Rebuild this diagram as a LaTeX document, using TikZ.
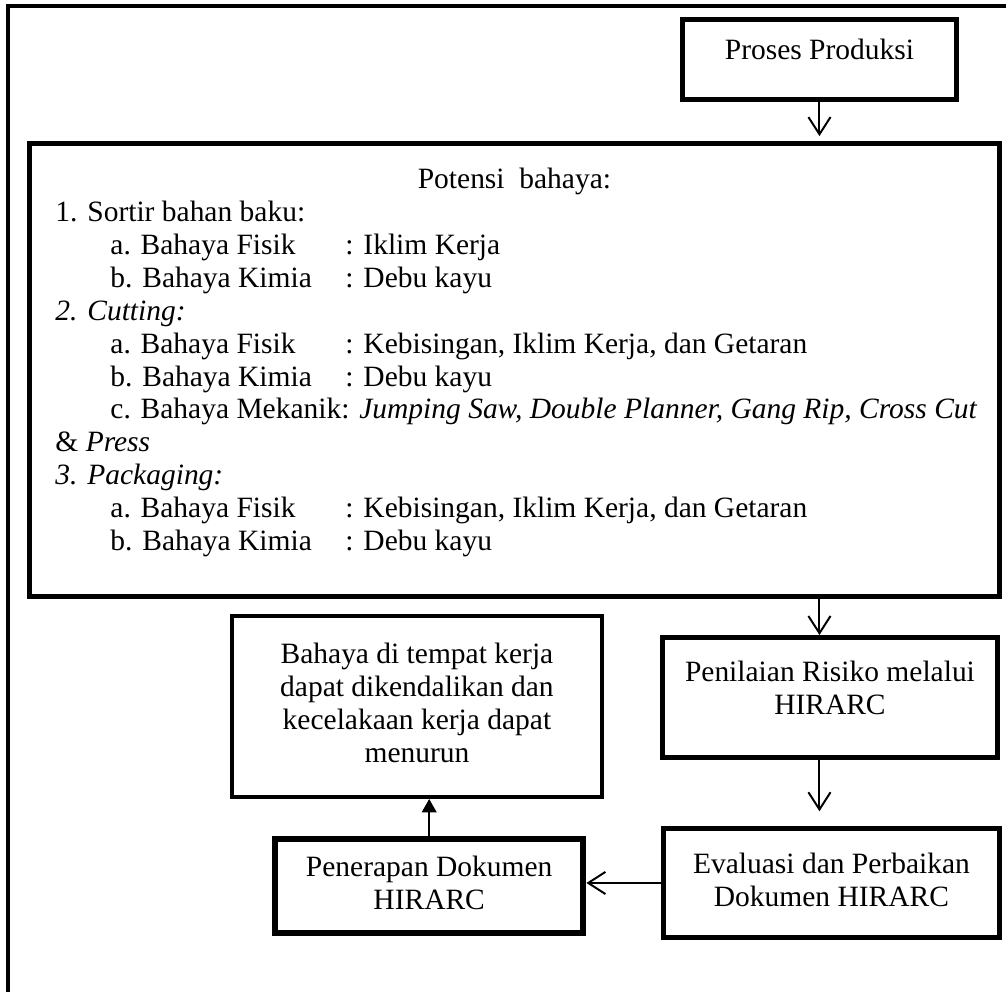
\documentclass[tikz,border=0pt]{standalone}
\usepackage{fontspec}
\setmainfont{Liberation Serif}
\usetikzlibrary{arrows.meta}
\newdimen\px
\px=0.407pt
\newcommand{\bxtext}[4]{\parbox[c][#2\px][#3]{#1\px}{\centering #4}}

\begin{document}
\begin{tikzpicture}[x=0.407pt,y=-0.407pt,
    box/.style={draw,line width=2pt,inner sep=0pt,anchor=north west,font=\fontsize{12pt}{13.4pt}\selectfont},
    arr/.style={-{Straight Barb[length=7pt,width=9pt]},line width=0.8pt},
    tri/.style={-{Triangle[length=5.5pt,width=6pt]},line width=0.8pt}]
    \useasboundingbox (0,0) rectangle (1006,991);
    % frame
    \draw[line width=1.6pt] (8,1000) -- (8,6) -- (1020,6);
    \node[box] (proses) at (680,17) {\bxtext{274}{80}{t}{\vspace*{17\px}\strut Proses Produksi}};
    \node[box] (potensi) at (27,141) {\bxtext{970}{453}{t}{\vspace*{22\px}\strut Potensi\ \ bahaya:\par
        \raggedright
        \hspace*{26\px}1. Sortir bahan baku:\\
        \hspace*{81\px}\makebox[235\px][l]{a. Bahaya Fisik}: Iklim Kerja\\
        \hspace*{81\px}\makebox[235\px][l]{b. Bahaya Kimia}: Debu kayu\\
        \hspace*{26\px}\textit{2. Cutting:}\\
        \hspace*{81\px}\makebox[235\px][l]{a. Bahaya Fisik}: Kebisingan, Iklim Kerja, dan Getaran\\
        \hspace*{81\px}\makebox[235\px][l]{b. Bahaya Kimia}: Debu kayu\\
        \hspace*{81\px}c. Bahaya Mekanik: \textit{Jumping Saw, Double Planner, Gang Rip, Cross Cut}\\
        \hspace*{26\px}\& \textit{Press}\\
        \hspace*{26\px}\textit{3. Packaging:}\\
        \hspace*{81\px}\makebox[235\px][l]{a. Bahaya Fisik}: Kebisingan, Iklim Kerja, dan Getaran\\
        \hspace*{81\px}\makebox[235\px][l]{b. Bahaya Kimia}: Debu kayu}};
    \node[box] (penilaian) at (660,635) {\bxtext{335}{120}{t}{\vspace*{21\px}\strut Penilaian Risiko melalui\\HIRARC}};
    \node[box,line width=1.6pt] (bahaya) at (230,614) {\bxtext{370}{181}{c}{\strut Bahaya di tempat kerja\\dapat dikendalikan dan\\kecelakaan kerja dapat\\menurun\strut}};
    \node[box] (evaluasi) at (661,826) {\bxtext{336}{109}{c}{\strut Evaluasi dan Perbaikan\\Dokumen HIRARC\strut}};
    \node[box,line width=2.6pt] (penerapan) at (272,836) {\bxtext{308}{94}{c}{\strut Penerapan Dokumen\\HIRARC\strut}};
    % arrows
    \draw[arr,shorten >=2pt] (proses.south) -- (proses.south |- potensi.north);
    \draw[arr] (potensi.south -| proses.south) -- (penilaian.north -| proses.south);
    \draw[arr,shorten >=6pt] (penilaian.south -| proses.south) -- (evaluasi.north -| proses.south);
    \draw[arr] (evaluasi.west) -- (evaluasi.west -| penerapan.east);
    \draw[tri] (penerapan.north) -- (penerapan.north |- bahaya.south);
\end{tikzpicture}
\end{document}
